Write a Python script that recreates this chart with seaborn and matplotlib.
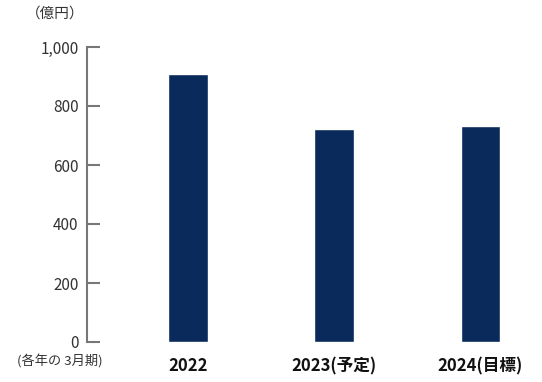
import pandas as pd
import matplotlib.pyplot as plt
import seaborn as sns

# data
years = ['2022', '2023(予定)', '2024(目標)']
values = [908, 721, 731]
yticks = [0, 200, 400, 600, 800, 1000]
ytick_labels = ['0', '200', '400', '600', '800', '1,000']

df = pd.DataFrame({'year': years, 'value': values})

sns.set_style('white')
plt.rcParams['font.family'] = ['Noto Sans CJK JP', 'DejaVu Sans']

fig = plt.figure(figsize=(5.42, 3.82), dpi=100)
ax = fig.add_axes([87/542, 40/382, 443/542, 295/382])

sns.barplot(data=df, x='year', y='value', color='#0b2a5c', width=0.27,
            saturation=1, ax=ax)

ax.set_xlim(-0.69, 2.34)
ax.set_ylim(0, 1000)
ax.set_yticks(yticks)
ax.set_yticklabels(ytick_labels, fontsize=11, color='#333333')
ax.set_xticks(range(len(years)))
ax.set_xticklabels(years, fontsize=12, fontweight='bold', color='#111111')
ax.set_xlabel('')
ax.set_ylabel('')

ax.tick_params(axis='y', left=True, direction='in', length=9, width=1.5,
               color='#777777', pad=6)
ax.tick_params(axis='x', bottom=False, length=0, pad=11)

for s in ['top', 'right', 'bottom']:
    ax.spines[s].set_visible(False)
ax.spines['left'].set_color('#777777')
ax.spines['left'].set_linewidth(1.5)

fig.text(55/542, 1 - 14/382, '（億円）', ha='center', va='center', fontsize=10.5, color='#333333')
fig.text(60/542, 1 - 362/382, '(各年の 3月期)', ha='center', va='center', fontsize=9.5, color='#333333')

fig.savefig('out.png', dpi=100)
